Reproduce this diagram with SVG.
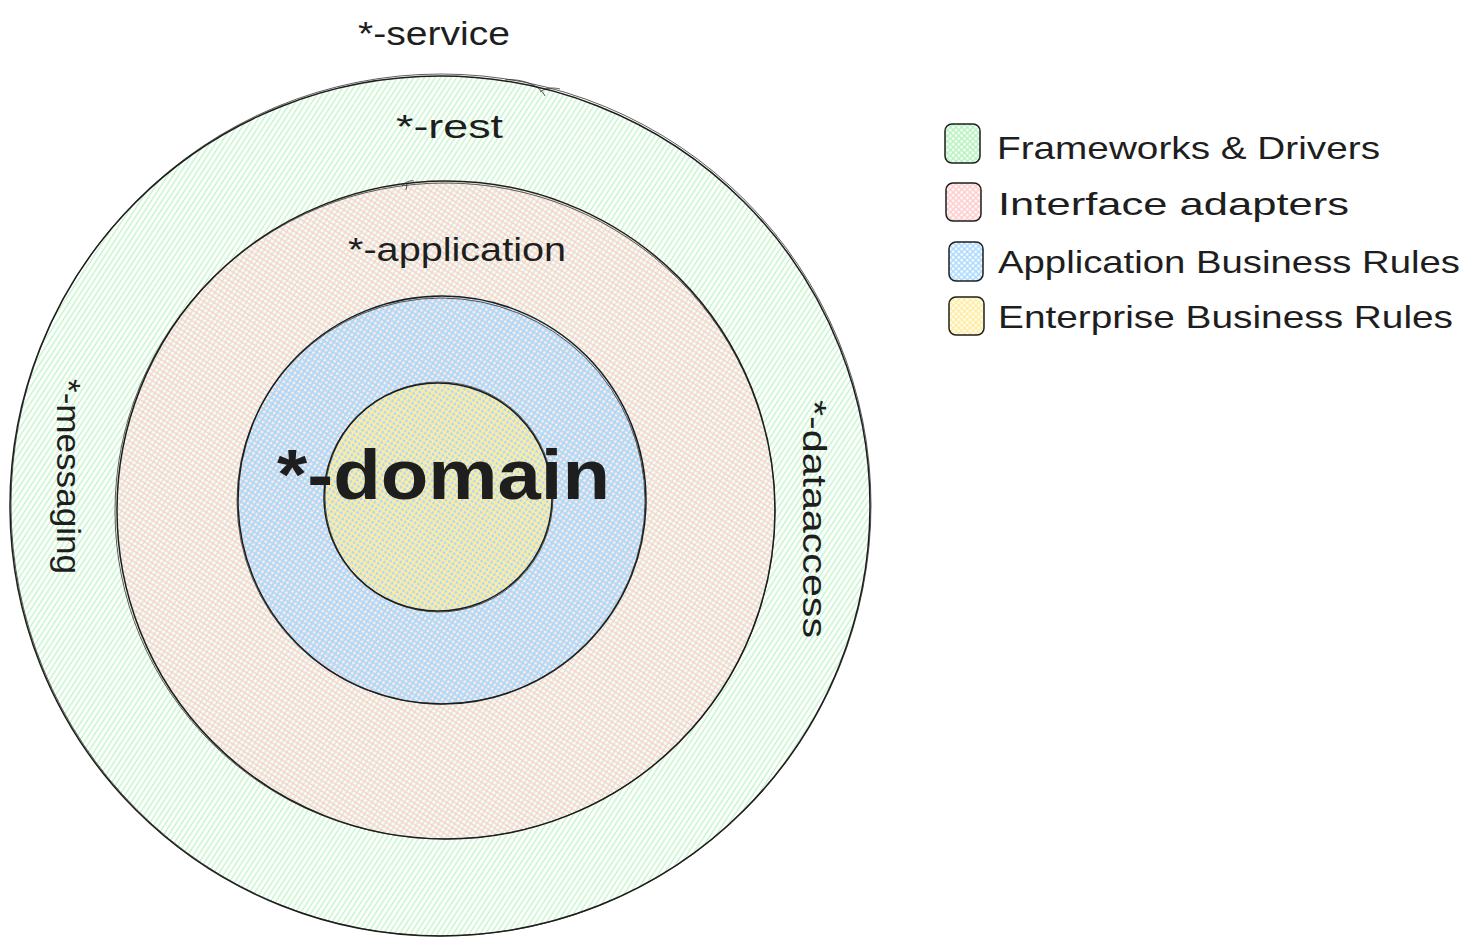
<svg xmlns="http://www.w3.org/2000/svg" width="1470" height="946" viewBox="0 0 1470 946">
<style>
.ol{fill:none;stroke:#1e1e1e;stroke-width:1.5}
.ol2{fill:none;stroke:#1e1e1e;stroke-width:0.9;opacity:0.8}
.box{stroke:#1e1e1e;stroke-width:1.5}
.lbl{font-family:"Liberation Sans","DejaVu Sans",sans-serif;fill:#1e1e1e}
.s34{font-size:34px}
.s32{font-size:32px}
.big{font-size:70px;font-weight:bold}
</style>
<defs>
<pattern id="hg" patternUnits="userSpaceOnUse" width="4.5" height="4.5" patternTransform="rotate(-57)">
<line x1="0" y1="2.25" x2="4.5" y2="2.25" stroke="#b2f2bb" stroke-width="1.3" opacity="0.85"/>
</pattern>
<pattern id="hr" patternUnits="userSpaceOnUse" width="4.5" height="4.5" patternTransform="rotate(-57)">
<line x1="2.25" y1="0" x2="2.25" y2="4.5" stroke="#ffc9c9" stroke-width="1.6" opacity="0.9"/>
<line x1="0" y1="1" x2="4.5" y2="1" stroke="#ffc9c9" stroke-width="0.8" opacity="0.5"/>
</pattern>
<pattern id="hb" patternUnits="userSpaceOnUse" width="4.5" height="4.5" patternTransform="rotate(-57)">
<line x1="0" y1="3" x2="4.5" y2="3" stroke="#a5d8ff" stroke-width="1.6"/>
<line x1="3.5" y1="0" x2="3.5" y2="4.5" stroke="#a5d8ff" stroke-width="1.4"/>
</pattern>
<pattern id="hy" patternUnits="userSpaceOnUse" width="4.5" height="4.5" patternTransform="rotate(-57)">
<line x1="0" y1="1" x2="4.5" y2="1" stroke="#ffec99" stroke-width="1.6"/>
<line x1="1.2" y1="0" x2="1.2" y2="4.5" stroke="#ffec99" stroke-width="1.6"/>
</pattern>
<pattern id="lg" patternUnits="userSpaceOnUse" width="4" height="4" patternTransform="rotate(-45)">
<rect width="4" height="4" fill="#ffffff"/>
<line x1="0" y1="2" x2="4" y2="2" stroke="#b2f2bb" stroke-width="1.4"/>
<line x1="2" y1="0" x2="2" y2="4" stroke="#b2f2bb" stroke-width="1.4"/>
</pattern>
<pattern id="lr" patternUnits="userSpaceOnUse" width="4" height="4" patternTransform="rotate(-45)">
<rect width="4" height="4" fill="#ffffff"/>
<line x1="0" y1="2" x2="4" y2="2" stroke="#ffc9c9" stroke-width="1.4"/>
<line x1="2" y1="0" x2="2" y2="4" stroke="#ffc9c9" stroke-width="1.4"/>
</pattern>
<pattern id="lb" patternUnits="userSpaceOnUse" width="4" height="4" patternTransform="rotate(-45)">
<rect width="4" height="4" fill="#ffffff"/>
<line x1="0" y1="2" x2="4" y2="2" stroke="#a5d8ff" stroke-width="1.4"/>
<line x1="2" y1="0" x2="2" y2="4" stroke="#a5d8ff" stroke-width="1.4"/>
</pattern>
<pattern id="ly" patternUnits="userSpaceOnUse" width="4" height="4" patternTransform="rotate(-45)">
<rect width="4" height="4" fill="#ffffff"/>
<line x1="0" y1="2" x2="4" y2="2" stroke="#ffec99" stroke-width="1.4"/>
<line x1="2" y1="0" x2="2" y2="4" stroke="#ffec99" stroke-width="1.4"/>
</pattern>
</defs>
<rect width="1470" height="946" fill="#ffffff"/>

<g id="ring-frameworks">
<circle cx="440" cy="506" r="430" fill="url(#hg)"/>
<circle class="ol" cx="440" cy="506" r="430"/>
<ellipse class="ol2" cx="441" cy="505" rx="430" ry="431"/>
<path class="ol2" d="M505 80 C520 78 540 85 545 96 M540 92 C545 88 552 87 560 89"/>
</g>

<g id="ring-adapters">
<circle cx="446" cy="510" r="329" fill="url(#hr)"/>
<circle class="ol" cx="446" cy="510" r="329"/>
<ellipse class="ol2" cx="445" cy="511" rx="330" ry="328"/>
<path class="ol2" d="M402 186 C406 182 410 180 414 181 M407 184 L406 190"/>
</g>

<g id="ring-application">
<circle cx="442" cy="500" r="204" fill="url(#hb)"/>
<circle class="ol" cx="442" cy="500" r="204"/>
<ellipse class="ol2" cx="441" cy="501" rx="204" ry="203"/>
</g>

<g id="ring-domain">
<circle cx="438" cy="497" r="114" fill="url(#hy)"/>
<circle class="ol" cx="438" cy="497" r="114"/>
<ellipse class="ol2" cx="439" cy="497" rx="114" ry="115"/>
</g>

<g id="labels">
<text class="lbl s34" x="358" y="45" textLength="152" lengthAdjust="spacingAndGlyphs">*-service</text>
<text class="lbl s34" x="396" y="138" textLength="107" lengthAdjust="spacingAndGlyphs">*-rest</text>
<text class="lbl s34" x="348" y="261" textLength="218" lengthAdjust="spacingAndGlyphs">*-application</text>
<text class="lbl big" x="277" y="499" textLength="333" lengthAdjust="spacingAndGlyphs">*-domain</text>
<text class="lbl s34" transform="translate(57,379) rotate(90)" textLength="195" lengthAdjust="spacingAndGlyphs">*-messaging</text>
<text class="lbl s34" transform="translate(803,400) rotate(90)" textLength="238" lengthAdjust="spacingAndGlyphs">*-dataaccess</text>
</g>

<g id="connectors"></g>

<g id="legend-frameworks">
<rect class="box" x="945" y="124" width="35" height="39" rx="7" fill="url(#lg)"/>
<text class="lbl s32" x="997" y="159" textLength="383" lengthAdjust="spacingAndGlyphs">Frameworks &amp; Drivers</text>
</g>
<g id="legend-adapters">
<rect class="box" x="946" y="183" width="35" height="38" rx="7" fill="url(#lr)"/>
<text class="lbl s32" x="998" y="215" textLength="351" lengthAdjust="spacingAndGlyphs">Interface adapters</text>
</g>
<g id="legend-application">
<rect class="box" x="949" y="242" width="34" height="39" rx="7" fill="url(#lb)"/>
<text class="lbl s32" x="998" y="273" textLength="462" lengthAdjust="spacingAndGlyphs">Application Business Rules</text>
</g>
<g id="legend-enterprise">
<rect class="box" x="949" y="297" width="35" height="38" rx="7" fill="url(#ly)"/>
<text class="lbl s32" x="998" y="328" textLength="455" lengthAdjust="spacingAndGlyphs">Enterprise Business Rules</text>
</g>
</svg>
